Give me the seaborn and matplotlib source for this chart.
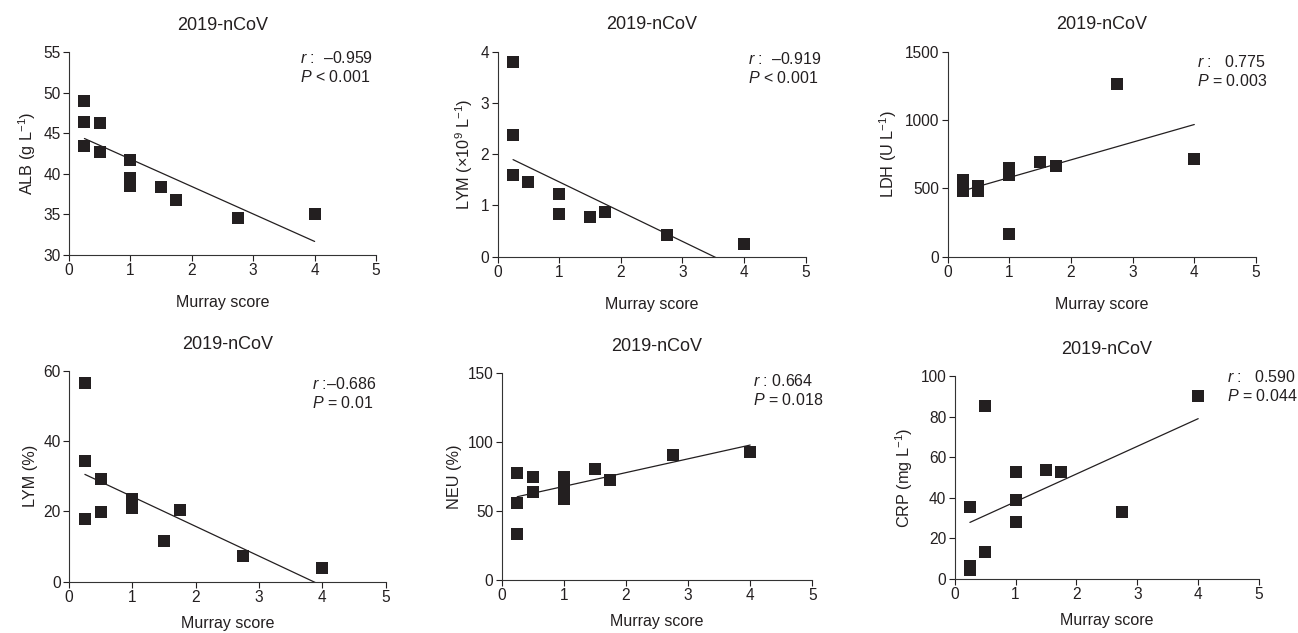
import numpy as np
import pandas as pd
import matplotlib
matplotlib.use("Agg")
import matplotlib.pyplot as plt
import seaborn as sns

# ============================
# data
# ============================
murray = [0.25, 0.25, 0.25, 0.5, 0.5, 1, 1, 1, 1.5, 1.75, 2.75, 4]

alb = [49.0, 46.4, 43.4, 46.3, 42.7, 41.7, 39.5, 38.5, 38.4, 36.8, 34.6, 35.1]
lym_abs = [3.80, 2.38, 1.59, 1.45, 1.45, 1.22, 0.84, 0.84, 0.77, 0.88, 0.43, 0.25]
ldh = [560, 520, 480, 515, 480, 646, 598, 166, 695, 663, 1263, 717]
lym_pct = [56.4, 34.4, 17.7, 29.3, 19.8, 23.5, 22.0, 20.9, 11.6, 20.4, 7.2, 3.8]
neu = [77.4, 56.1, 33.4, 74.5, 64.1, 75.0, 67.0, 58.6, 80.8, 72.3, 91.0, 92.7]
crp = [35.5, 6.5, 4.5, 85.2, 13.0, 52.8, 38.8, 28.1, 53.8, 52.6, 33.1, 90.0]

ylabels = ["ALB (g L$^{-1}$)", "LYM (×10$^{9}$ L$^{-1}$)", "LDH (U L$^{-1}$)",
           "LYM (%)", "NEU (%)", "CRP (mg L$^{-1}$)"]
r_texts = ["–0.959", "–0.919", "0.775", "–0.686", "0.664", "0.590"]
r_seps = [" :  ", " :  ", " :   ", " :", " : ", " :   "]
p_texts = ["< 0.001", "< 0.001", "= 0.003", "= 0.01", "= 0.018", "= 0.044"]
yticks = [[30, 35, 40, 45, 50, 55], [0, 1, 2, 3, 4], [0, 500, 1000, 1500],
          [0, 20, 40, 60], [0, 50, 100, 150], [0, 20, 40, 60, 80, 100]]
series = [alb, lym_abs, ldh, lym_pct, neu, crp]

# axes rectangles [left, bottom, width, height] in figure fraction
rects = [[0.0532, 0.5972, 0.2365, 0.3207],
         [0.3834, 0.5945, 0.2373, 0.3240],
         [0.7301, 0.5945, 0.2375, 0.3240],
         [0.0532, 0.0810, 0.2440, 0.3333],
         [0.3865, 0.0837, 0.2393, 0.3265],
         [0.7355, 0.0858, 0.2345, 0.3200]]
# annotation anchor (axes fraction): x, y of r line, y of P line
annos = [(0.752, 0.970, 0.877), (0.813, 0.963, 0.870), (0.808, 0.951, 0.857),
         (0.766, 0.937, 0.848), (0.810, 0.963, 0.871), (0.894, 0.997, 0.901)]
xlabel_pads = [12, 12, 12, 8, 8, 8]

sns.set_style("ticks")
plt.rcParams["font.family"] = ["Liberation Sans", "DejaVu Sans"]
plt.rcParams["mathtext.fontset"] = "custom"
plt.rcParams["mathtext.rm"] = "Liberation Sans"
plt.rcParams["mathtext.it"] = "Liberation Sans:italic"
plt.rcParams["mathtext.default"] = "regular"
plt.rcParams["axes.unicode_minus"] = False

ink = "#231f20"
fig = plt.figure(figsize=(12.98, 6.33), dpi=100)

for i, vals in enumerate(series):
    ax = fig.add_axes(rects[i])
    df = pd.DataFrame({"murray": murray, "val": vals})
    sns.regplot(data=df, x="murray", y="val", ax=ax, ci=None, marker="s",
                color=ink,
                scatter_kws={"s": 66, "linewidths": 0, "alpha": 1},
                line_kws={"lw": 0.9, "color": ink})
    ax.set_xlim(0, 5)
    ax.set_ylim(yticks[i][0], yticks[i][-1])
    ax.set_xticks([0, 1, 2, 3, 4, 5])
    ax.set_yticks(yticks[i])
    ax.tick_params(labelsize=11.2, length=4, width=0.8, colors=ink, pad=2)
    for s in ["left", "bottom"]:
        ax.spines[s].set_linewidth(0.8)
        ax.spines[s].set_color("#333333")
    sns.despine(ax=ax)
    ax.set_xlabel("Murray score", fontsize=11.5, labelpad=xlabel_pads[i], color=ink)
    ax.set_ylabel(ylabels[i], fontsize=11.7, labelpad=4, color=ink)
    ax.set_title("2019-nCoV", fontsize=13, pad=16, color=ink)

    x0, yr, yp = annos[i]
    ax.text(x0, yr, "$\\it{r}$" + r_seps[i] + r_texts[i], transform=ax.transAxes,
            fontsize=11.5, va="center", ha="left", color=ink)
    ax.text(x0, yp, "$\\it{P}$ " + p_texts[i], transform=ax.transAxes,
            fontsize=11.5, va="center", ha="left", color=ink)

fig.savefig("out.png", dpi=100)
